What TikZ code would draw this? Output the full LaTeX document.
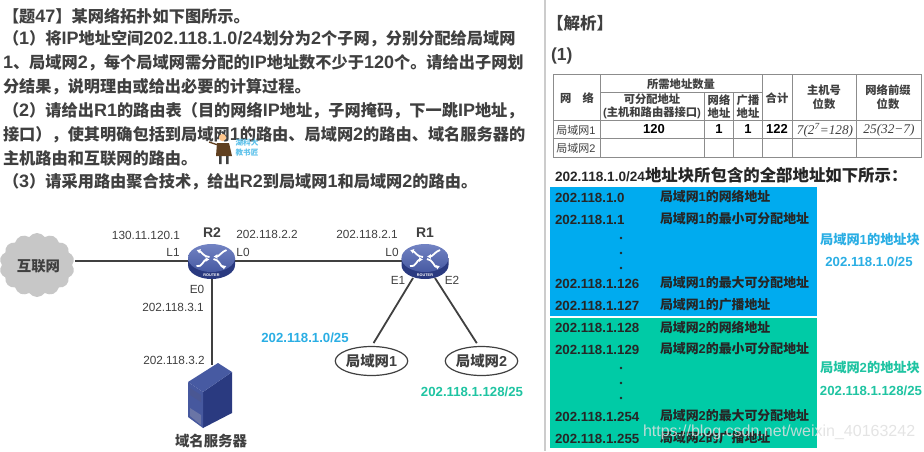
\documentclass[tikz,border=0pt]{standalone}
\usepackage{fontspec}
\usetikzlibrary{shapes.geometric,shapes.symbols,arrows.meta}
\setmainfont{Liberation Sans}
\newfontfamily\cn{Noto Sans CJK SC}
\newfontfamily\cnp[Scale=0.9]{Noto Sans CJK SC}
\newfontfamily\ser{Liberation Serif}
\newcommand{\zh}[1]{{\cn #1}}
\newcommand{\zp}[1]{{\cnp #1}}
\definecolor{ink}{HTML}{404040}
\definecolor{lanblue}{HTML}{2AAEE4}
\definecolor{langreen}{HTML}{1FC4A2}
\definecolor{boxblue}{HTML}{00ABEF}
\definecolor{boxgreen}{HTML}{00CBA6}
\definecolor{routertop}{HTML}{4F64B4}
\definecolor{routerside}{HTML}{2A3A80}
\definecolor{rule}{HTML}{8C8C8C}
\tikzset{
  every node/.style={inner sep=0pt,outer sep=0pt},
  para/.style={anchor=west,font=\fontsize{18}{20}\selectfont\bfseries\let\zh\zp,text=ink},
  lab/.style={font=\fontsize{11.8}{13}\selectfont,text=ink},
  sublan/.style={font=\fontsize{13.2}{15}\selectfont\bfseries},
  tcell/.style={font=\fontsize{11.3}{13}\selectfont\bfseries,text=ink,align=center},
  tnum/.style={font=\fontsize{13}{15}\selectfont\bfseries,text=black},
  tval/.style={font=\fontsize{13.3}{15}\selectfont\ser\itshape,text=ink},
  ipr/.style={anchor=west,font=\fontsize{13.3}{15}\selectfont\bfseries,text=black!85},
  ipd/.style={anchor=west,font=\fontsize{12.9}{15}\selectfont\bfseries,text=black!85},
  wire/.style={draw=ink,line width=1.8pt},
  lan/.style={ellipse,draw=ink,line width=1.2pt,minimum width=71pt,minimum height=29pt,fill=white},
  routernode/.style={ellipse,minimum width=47pt,minimum height=28pt},
  grid/.style={draw=rule,line width=.8pt},
  rarrow/.style={draw=white,line width=1.8pt,-{Latex[length=3.8pt,width=5pt]}},
}
\newcommand{\router}[1]{%
  \fill[routerside] ([xshift=-23.5pt]#1.center) -- ++(0,7) arc[start angle=180,end angle=360,x radius=23.5pt,y radius=14pt] -- ++(0,-7) -- cycle;
  \shade[top color=routertop!80!white,bottom color=routertop!90!black] (#1.center) ellipse[x radius=23.5pt,y radius=14pt];
  \begin{scope}[shift={(#1.center)}]
    \draw[rarrow] (-2,-1) to[out=180,in=-20] (-15,-8);
    \draw[rarrow] (15,-8) to[out=200,in=0] (2,-1.5);
    \draw[rarrow] (-15,8) to[out=-20,in=180] (-2,1.5);
    \draw[rarrow] (2,1) to[out=0,in=200] (15,8);
    \node[text=white,font=\fontsize{3.8}{4}\selectfont\bfseries] at (0,17.3) {ROUTER};
  \end{scope}}
\begin{document}
\begin{tikzpicture}[x=1pt,y=-1pt]
\useasboundingbox (0,0) rectangle (924,451);
\fill[white] (0,0) rectangle (924,451);

% question text
\node[para] at (3,16) {\zh{【题}47\zh{】某网络拓扑如下图所示。}};
\node[para] at (3,39) {\zh{（}1\zh{）将}IP\zh{地址空间}202.118.1.0/24\zh{划分为}2\zh{个子网，分别分配给局域网}};
\node[para] at (3,63) {1\zh{、局域网}2\zh{，每个局域网需分配的}IP\zh{地址数不少于}120\zh{个。请给出子网划}};
\node[para] at (3,87) {\zh{分结果，说明理由或给出必要的计算过程。}};
\node[para] at (3,111) {\zh{（}2\zh{）请给出}R1\zh{的路由表（目的网络}IP\zh{地址，子网掩码，下一跳}IP\zh{地址，}};
\node[para] at (3,135) {\zh{接口），使其明确包括到局域网}1\zh{的路由、局域网}2\zh{的路由、域名服务器的}};
\node[para] at (3,158) {\zh{主机路由和互联网的路由。}};
\node[para] at (3,182) {\zh{（}3\zh{）请采用路由聚合技术，给出}R2\zh{到局域网}1\zh{和局域网}2\zh{的路由。}};

% small presenter figure
\fill[brown!50!black] (217,143) -- (229,143) -- (232,156) -- (216,156) -- cycle;
\fill[black!75] (219,156) rectangle (221.5,164) (226,156) rectangle (228.5,164);
\fill[orange!45!white] (222.5,137.5) circle[radius=3.6pt];
\draw[brown!50!black,line width=1.4pt] (218,145) -- (209,142);
\node[font=\fontsize{7.6}{9}\selectfont\bfseries\cn,text=lanblue!75!white] (logoa) at (247,143) {湖科大};
\node[font=\fontsize{7.6}{9}\selectfont\bfseries\cn,text=lanblue!75!white] (logob) at (247,153) {教书匠};

% network
\node[cloud,cloud puffs=14,cloud puff arc=110,aspect=1.2,fill=black!22,minimum width=75pt,minimum height=64pt] (net) at (37,265) {};
\node[font=\fontsize{14.4}{16}\selectfont\bfseries\cn,text=ink] (netlab) at (38.5,266) {互联网};
\node[routernode] (R2) at (211.5,258) {};
\node[routernode] (R1) at (425,258) {};
\node[lan] (lan1) at (371.5,361) {\fontsize{14.4}{16}\selectfont\bfseries\color{ink}\zh{局域网}1};
\node[lan] (lan2) at (481.5,361) {\fontsize{14.4}{16}\selectfont\bfseries\color{ink}\zh{局域网}2};
\coordinate (srv) at (212,365);
\coordinate (r2w) at (190,261);
\coordinate (r2e) at (233,261);
\coordinate (r1w) at (404,261);
\coordinate (r2s) at (212,276);
\coordinate (r1a) at (413,278);
\coordinate (r1b) at (435,278);
\coordinate (cl) at (75,261);
\draw[wire] (cl) -- (r2w);
\draw[wire] (r2e) -- (r1w);
\draw[wire] (r2s) -- (srv);
\draw[wire,shorten >=4pt] (r1a) -- (lan1.north);
\draw[wire,shorten >=4pt] (r1b) -- (lan2.100);
\router{R2}
\router{R1}

% server
\fill[routerside] (203,392) -- (232,372) -- (232,413) -- (203,428) -- cycle;
\fill[routertop!90!black] (188,382) -- (218,363) -- (232,372) -- (203,392) -- cycle;
\fill[routertop!88!black] (188,382) -- (203,392) -- (203,428) -- (188,417) -- cycle;
\fill[routerside!85!white] (190,388) -- (201,395) -- (201,402) -- (190,395) -- cycle;
\fill[routerside!70!white] (190,408) -- (201,415) -- (201,425) -- (190,416) -- cycle;
\node[font=\fontsize{14.4}{16}\selectfont\bfseries\cn,text=ink] (srvlab) at (211,441) {域名服务器};

% labels
\node[lab] (l1) at (146,235) {130.11.120.1};
\node[font=\fontsize{14}{16}\selectfont\bfseries,text=ink] (r2n) at (212,233) {R2};
\node[lab] (l2) at (267,234) {202.118.2.2};
\node[lab] (l3) at (367,234) {202.118.2.1};
\node[font=\fontsize{14}{16}\selectfont\bfseries,text=ink] (r1n) at (425,233) {R1};
\node[lab] (l4) at (173,252) {L1};
\node[lab] (l5) at (243,252) {L0};
\node[lab] (l6) at (392,252) {L0};
\node[lab] (l7) at (398,280) {E1};
\node[lab] (l8) at (452,280) {E2};
\node[lab] (l9) at (197,289) {E0};
\node[lab] (l10) at (173,307) {202.118.3.1};
\node[lab] (l11) at (174,360) {202.118.3.2};
\node[sublan,text=lanblue] (s1) at (305,338) {202.118.1.0/25};
\node[sublan,text=langreen] (s2) at (472,392) {202.118.1.128/25};

% divider
\draw[black!20,line width=1.6pt] (545,0) -- (545,451);

% analysis heading
\node[anchor=west,font=\fontsize{16.5}{18}\selectfont\bfseries\cn,text=ink] (h1) at (547,23) {【解析】};
\node[anchor=west,font=\fontsize{17.5}{19}\selectfont\bfseries,text=ink] (h2) at (551,56) {(1)};

% table
\draw[grid] (553,74) rectangle (921,157);
\foreach \xx in {600,762,792,856} \draw[grid] (\xx,74) -- (\xx,157);
\foreach \xx in {704,733} \draw[grid] (\xx,92) -- (\xx,157);
\draw[grid] (600,92) -- (762,92);
\draw[grid] (553,120) -- (921,120);
\draw[grid] (553,138) -- (921,138);
\node[tcell] (t1) at (681,84) {\cn 所需地址数量};
\node[tcell] (t2) at (577,98) {\cn 网\quad 络};
\node[tcell] (t3) at (652,106.5) {\cn 可分配地址\\[0pt](\zh{主机和路由器接口})};
\node[tcell] (t4) at (719,106.5) {\cn 网络\\[0pt]\cn 地址};
\node[tcell] (t5) at (748,106.5) {\cn 广播\\[0pt]\cn 地址};
\node[tcell] (t6) at (777,98) {\cn 合计};
\node[tcell] (t7) at (824,97) {\cn 主机号\\[1pt]\cn 位数};
\node[tcell] (t8) at (888,97) {\cn 网络前缀\\[1pt]\cn 位数};
\node[font=\fontsize{11}{13}\selectfont,text=ink] (t9) at (576,130) {\zh{局域网}1};
\node[font=\fontsize{11}{13}\selectfont,text=ink] (t10) at (576,148) {\zh{局域网}2};
\node[tnum] (t11) at (654,129) {120};
\node[tnum] (t12) at (719,129) {1};
\node[tnum] (t13) at (748,129) {1};
\node[tnum] (t14) at (777,129) {122};
\node[tval] (t15) at (825,130) {7(2\textsuperscript{7}=128)};
\node[tval] (t16) at (889,130) {25(32−7)};

\node[anchor=west,font=\fontsize{16.4}{18}\selectfont\bfseries,text=black!85] (cap) at (555,175) {{\fontsize{13.6}{15}\selectfont 202.118.1.0/24}\zh{地址块所包含的全部地址如下所示：}};

% address blocks
\fill[boxblue] (550,187) rectangle (817,316);
\fill[boxgreen] (550,318) rectangle (817,448);
\foreach \yy/\ip/\what in {198/202.118.1.0/的网络地址,220/202.118.1.1/的最小可分配地址,284/202.118.1.126/的最大可分配地址,306/202.118.1.127/的广播地址}{
  \node[ipr] at (555,\yy) {\ip};
  \node[ipd] at (660,\yy-1) {\zh{局域网}1\zh{\what}};
}
\foreach \yy/\ip/\what in {328/202.118.1.128/的网络地址,350/202.118.1.129/的最小可分配地址,417/202.118.1.254/的最大可分配地址,439/202.118.1.255/的广播地址}{
  \node[ipr] at (555,\yy) {\ip};
  \node[ipd] at (660,\yy-1) {\zh{局域网}2\zh{\what}};
}
\foreach \yy in {238,253,268,368,383,398} \fill[black!85] (621,\yy) circle[radius=1.3pt];
\node[sublan,text=lanblue] (b1) at (870,239) {\zh{局域网}1\zh{的地址块}};
\node[sublan,text=lanblue] (b2) at (869,262) {202.118.1.0/25};
\node[sublan,text=langreen] (b3) at (870,367) {\zh{局域网}2\zh{的地址块}};
\node[sublan,text=langreen] (b4) at (871,391) {202.118.1.128/25};

% watermark
\node[anchor=west,font=\fontsize{16}{18}\selectfont,text=black!12,opacity=.85] (wm) at (643,432) {https://blog.csdn.net/weixin\_40163242};
\end{tikzpicture}
\end{document}
